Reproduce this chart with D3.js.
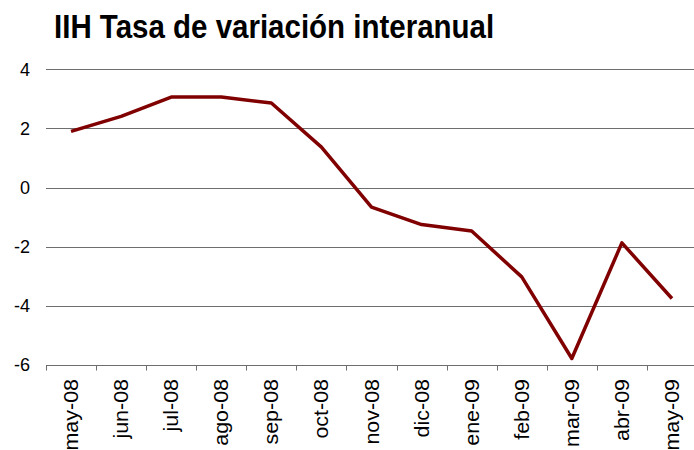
<!DOCTYPE html>
<html>
<head>
<meta charset="utf-8">
<script src="https://cdn.jsdelivr.net/npm/d3@7"></script>
<style>
  body { margin: 0; background: #fff; }
  svg { display: block; font-family: "Liberation Sans", Arial, sans-serif; }
</style>
</head>
<body>
<div id="chart"></div>
<script>
// months on the x axis
const months = ['may-08', 'jun-08', 'jul-08', 'ago-08', 'sep-08', 'oct-08', 'nov-08',
  'dic-08', 'ene-09', 'feb-09', 'mar-09', 'abr-09', 'may-09'];
// IIH year on year rate (%)
const rates = [1.90, 2.41, 3.06, 3.06, 2.86, 1.37, -0.66, -1.25, -1.47, -3.02, -5.78, -1.87, -3.75];
const yTicks = [-6, -4, -2, 0, 2, 4];

const width = 694;
const height = 450;

const svg = d3.select('#chart')
  .append('svg')
  .attr('width', width)
  .attr('height', height);

const x = d3.scaleBand()
  .domain(months)
  .range([46, 697]);

const y = d3.scaleLinear()
  .domain([-6, 4])
  .range([365, 69.3]);

// Title (a bit stretched vertically, like the original)
svg.append('text')
  .attr('transform', 'translate(54,37.5) scale(1,1.15)')
  .attr('font-size', 29.5)
  .attr('font-weight', 'bold')
  .text('IIH Tasa de variación interanual');

// Gridlines
svg.append('g')
  .selectAll('line')
  .data(yTicks.filter(d => d !== -6))
  .join('line')
    .attr('x1', 46)
    .attr('x2', 697)
    .attr('y1', d => Math.round(y(d)) + 0.5)
    .attr('y2', d => Math.round(y(d)) + 0.5)
    .attr('stroke', '#6e6e6e')
    .attr('stroke-width', 1);

// Y labels
svg.append('g')
  .selectAll('text')
  .data(yTicks)
  .join('text')
    .attr('x', 30)
    .attr('y', d => y(d))
    .attr('dy', '0.35em')
    .attr('text-anchor', 'end')
    .attr('font-size', 18)
    .text(d => d);

// X axis line with ticks at category edges
const xAxis = svg.append('g');
const axisY = Math.round(y(-6)) + 0.5;
xAxis.append('line')
  .attr('x1', 46)
  .attr('x2', 697)
  .attr('y1', axisY)
  .attr('y2', axisY)
  .attr('stroke', '#6e6e6e');

xAxis.selectAll('.tick')
  .data(months)
  .join('line')
    .attr('class', 'tick')
    .attr('x1', d => Math.round(x(d)) + 0.5)
    .attr('x2', d => Math.round(x(d)) + 0.5)
    .attr('y1', axisY)
    .attr('y2', axisY + 5)
    .attr('stroke', '#6e6e6e');

// Rotated month labels
xAxis.selectAll('.lbl')
  .data(months)
  .join('text')
    .attr('class', 'lbl')
    .attr('transform', d => `translate(${x(d) + x.bandwidth() / 2 + 7},379) rotate(-90) scale(1.1,1)`)
    .attr('text-anchor', 'end')
    .attr('font-size', 19.5)
    .text(d => d);

// The line
const line = d3.line()
  .x((d, i) => x(months[i]) + x.bandwidth() / 2)
  .y(d => y(d));

svg.append('path')
  .datum(rates)
  .attr('fill', 'none')
  .attr('stroke', '#800000')
  .attr('stroke-width', 3.5)
  .attr('stroke-linejoin', 'round')
  .attr('d', line);
</script>
</body>
</html>
